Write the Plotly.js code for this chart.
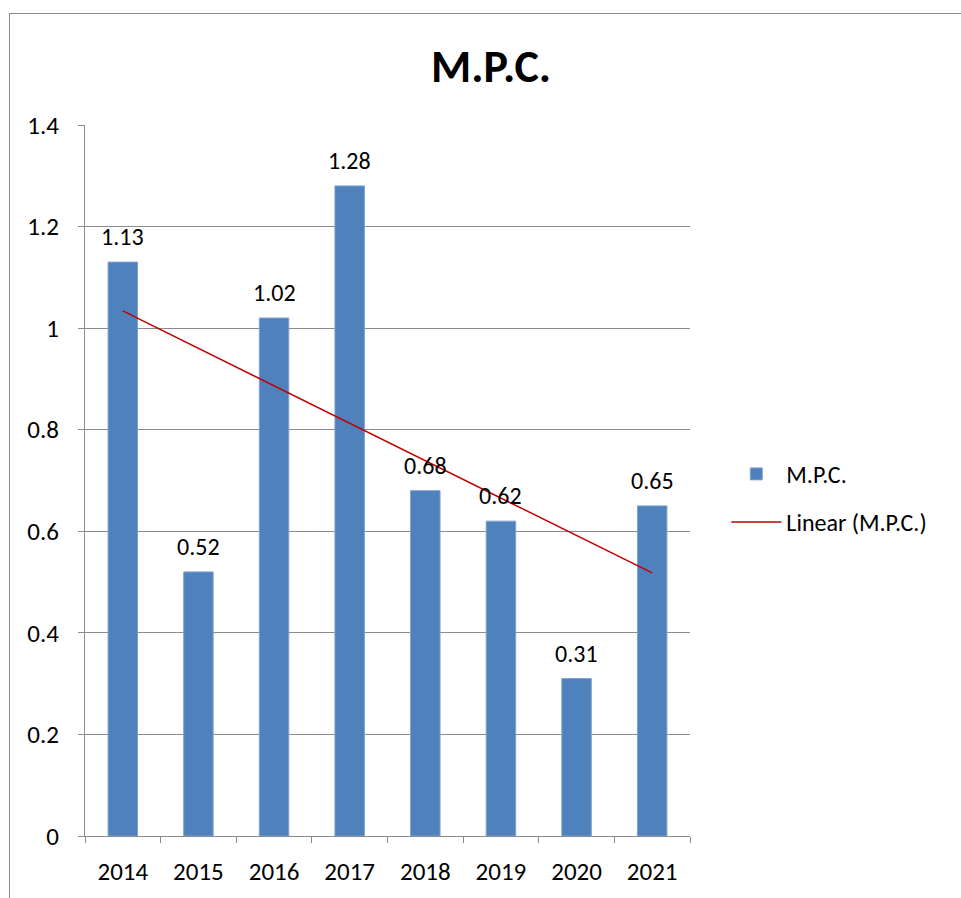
<!DOCTYPE html>
<html>
<head>
<meta charset="utf-8">
<script src="https://cdn.plot.ly/plotly-3.0.1.min.js"></script>
<style>
  html, body { margin: 0; padding: 0; background: #fff; }
  #frame { position: absolute; left: 9px; top: 13px; width: 960px; height: 890px;
           border-left: 1px solid #8c8c8c; border-top: 1px solid #8c8c8c; }
  #chart { position: absolute; left: 0; top: 0; width: 961px; height: 898px; }
</style>
</head>
<body>
<div id="frame"></div>
<div id="chart"></div>
<script>
const years = ['2014', '2015', '2016', '2017', '2018', '2019', '2020', '2021'];
const mpc = [1.13, 0.52, 1.02, 1.28, 0.68, 0.62, 0.31, 0.65];
const trendYears = ['2014', '2021'];
const trendValues = [1.034, 0.518];
const yTicks = [0, 0.2, 0.4, 0.6, 0.8, 1, 1.2, 1.4];
const yTickLabels = ['0', '0.2', '0.4', '0.6', '0.8', '1', '1.2', '1.4'];

const FONT = "Carlito, 'Liberation Sans', sans-serif";

const bars = {
  type: 'bar', name: 'M.P.C.', x: years, y: mpc,
  width: 0.39, legendgroup: 'a',
  marker: { color: '#4f81bd', line: { color: '#7ea3d1', width: 1 } },
  hoverinfo: 'skip'
};
const trend = {
  type: 'scatter', mode: 'lines', name: 'Linear (M.P.C.)',
  x: trendYears, y: trendValues, legendgroup: 'b',
  line: { color: '#c00000', width: 1.5 },
  hoverinfo: 'skip'
};

// annotations on a category axis use the category's serial index
const annotations = years.map((yr, i) => ({
  x: years.indexOf(yr), y: mpc[i], xref: 'x', yref: 'y',
  text: mpc[i].toFixed(2), showarrow: false,
  yanchor: 'bottom', yshift: 9,
  font: { family: FONT, size: 24, color: '#000' }
}));

const layout = {
  width: 961, height: 898,
  paper_bgcolor: 'rgba(0,0,0,0)', plot_bgcolor: 'rgba(0,0,0,0)',
  margin: { l: 85, r: 271, t: 125, b: 62 },
  font: { family: FONT, size: 24, color: '#000' },
  title: { text: '<b>M.P.C.</b>', xref: 'container', x: 0.511, xanchor: 'center',
           yref: 'container', y: 0.927, yanchor: 'middle',
           font: { family: FONT, size: 46, color: '#000' } },
  showlegend: true,
  legend: { x: 1.06, xanchor: 'left', y: 0.475, yanchor: 'middle',
            font: { family: FONT, size: 24, color: '#000' },
            itemwidth: 50, tracegroupgap: 14, traceorder: 'grouped',
            bgcolor: 'rgba(0,0,0,0)' },
  xaxis: { type: 'category', categoryorder: 'array', categoryarray: years,
           range: [-0.5, 7.5], tickangle: 0,
           showgrid: false, showline: true, linecolor: '#8c8c8c', linewidth: 1,
           ticks: 'outside', tickson: 'boundaries', ticklen: 6, tickcolor: '#8c8c8c',
           ticklabelstandoff: 13,
           tickfont: { family: FONT, size: 25 }, zeroline: false, fixedrange: true },
  yaxis: { range: [0, 1.4], tickmode: 'array', tickvals: yTicks, ticktext: yTickLabels,
           showgrid: true, gridcolor: '#8c8c8c', gridwidth: 1,
           showline: true, linecolor: '#8c8c8c', linewidth: 1,
           ticks: 'outside', ticklen: 6, tickcolor: '#8c8c8c',
           ticklabelstandoff: 14,
           tickfont: { family: FONT, size: 25 }, zeroline: false, fixedrange: true },
  annotations: annotations
};

Plotly.newPlot('chart', [bars, trend], layout, { displayModeBar: false, staticPlot: true });
</script>
</body>
</html>
